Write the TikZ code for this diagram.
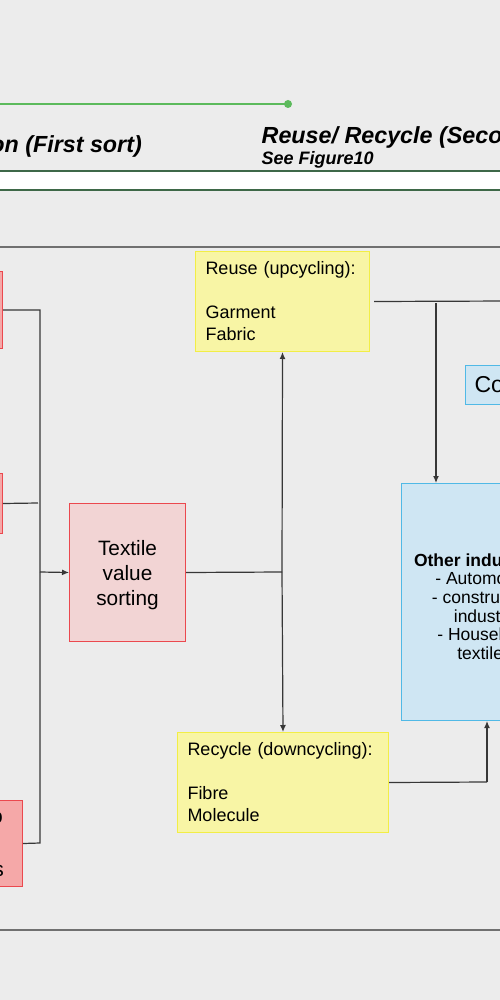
\documentclass[tikz,border=0pt]{standalone}
\usepackage{fontspec}
\setmainfont{Liberation Sans}
\usetikzlibrary{arrows.meta}
\definecolor{bg}{RGB}{236,236,236}
\definecolor{lgreen}{RGB}{92,186,92}
\definecolor{dgreen}{RGB}{62,104,72}
\definecolor{gline}{RGB}{112,112,112}
\definecolor{cline}{RGB}{55,55,55}
\definecolor{redb}{RGB}{235,72,78}
\definecolor{tvfill}{RGB}{242,212,212}
\definecolor{lfill}{RGB}{245,168,168}
\definecolor{yfill}{RGB}{248,245,165}
\definecolor{yborder}{RGB}{242,238,70}
\definecolor{bfill}{RGB}{207,230,243}
\definecolor{bborder}{RGB}{80,185,230}
\tikzset{
  conn/.style={draw=cline, line width=1.2pt},
  arr/.style={conn, -{Latex[length=7pt,width=6pt]}},
  lbox/.style={draw=redb, fill=lfill, line width=1pt, inner sep=0pt},
  tvbox/.style={draw=redb, fill=tvfill, line width=1pt, inner sep=0pt},
  ybox/.style={draw=yborder, fill=yfill, line width=1pt},
  bbox/.style={draw=bborder, fill=bfill, line width=1pt},
  plain/.style={inner sep=0pt},
}
\begin{document}
\begin{tikzpicture}[x=1pt,y=-1pt]
\useasboundingbox (0,0) rectangle (500,1000);
\clip (0,0) rectangle (500,1000);
\fill[bg] (-5,-5) rectangle (505,1005);

% header lines
\coordinate (gstart) at (-5,104);
\coordinate (gdot) at (288,104);
\draw[lgreen, line width=1.5pt] (gstart) -- (gdot);
\fill[lgreen] (gdot) circle (4);
\fill[white] (-5,171) rectangle (505,190);
\draw[dgreen, line width=2.6pt] (-5,171) -- (505,171);
\draw[dgreen, line width=2.6pt] (-5,190) -- (505,190);
\draw[gline, line width=1.8pt] (-5,247) -- (505,247);
\draw[gline, line width=1.8pt] (-5,930) -- (505,930);

% header texts
\node[plain, anchor=base east, font=\fontsize{23.3}{27}\selectfont\bfseries\itshape] (h1) at (142,152.5) {on (First sort)};
\node[plain, anchor=base west, font=\fontsize{23.3}{27}\selectfont\bfseries\itshape] (h2) at (261.5,143.5) {Reuse/ Recycle (Seco};
\node[plain, anchor=base west, font=\fontsize{18}{21}\selectfont\bfseries\itshape] (h3) at (261.5,165) {See Figure10};

% left boxes
\node[lbox, anchor=north east, minimum width=60pt, minimum height=77pt] (b1) at (3,271) {};
\node[lbox, anchor=north east, minimum width=60pt, minimum height=60pt] (b2) at (3,473) {};
\node[lbox, anchor=north east, minimum width=120pt, minimum height=86pt] (b3) at (23,800) {};
\node[plain, anchor=base east, font=\fontsize{21}{25}\selectfont] (t3a) at (3,823) {o};
\node[plain, anchor=base east, font=\fontsize{21}{25}\selectfont] (t3b) at (4,876) {s};

% main boxes
\node[tvbox, anchor=north west, minimum width=116pt, minimum height=138pt] (tv) at (69,503) {};
\node[plain, align=center, font=\fontsize{20.8}{25}\selectfont] (tvt) at ([yshift=-3pt]tv.center) {Textile\\value\\sorting};
\node[ybox, anchor=north west, text width=154pt, inner xsep=10pt, minimum height=100pt, align=left,
      font=\fontsize{18}{22}\selectfont] (reuse) at (195,251) {Reuse (upcycling):\\[22pt]Garment\\Fabric};
\node[ybox, anchor=north west, text width=191pt, inner xsep=10pt, minimum height=100pt, align=left,
      font=\fontsize{18}{22}\selectfont] (recycle) at (177,732) {Recycle (downcycling):\\[22pt]Fibre\\Molecule};
\node[bbox, anchor=north west, minimum width=166pt, minimum height=237pt] (oi) at (401,483) {};
\node[plain, align=center, font=\fontsize{17.5}{18.7}\selectfont] (oit) at ([yshift=-4.5pt]oi.center)
      {\textbf{Other industries:}\\- Automotive\\- construction\\industry\\- Household\\textiles};
\node[bbox, anchor=north west, text width=80pt, inner xsep=9pt, minimum height=39pt, align=left,
      font=\fontsize{23}{27}\selectfont] (co) at (465,365) {Co};

% connectors
\coordinate (j3) at (40,843);
\coordinate (j2) at (38,503);
\coordinate (jin) at (40,572);
\coordinate (jm) at (282,572);
\coordinate (rend) at (510,301);
\coordinate (dtop) at (436,303);
\coordinate (rc) at (487,782);
\draw[conn] (b1.east) -| (j3) -- (b3.east);
\draw[conn] (b2.east) -- (j2);
\draw[arr] (jin) -- (tv.west);
\draw[conn] (tv.east) -- (jm);
\draw[arr] (jm) -- (reuse.south);
\draw[arr] (jm) -- (recycle.north);
\draw[conn] ([xshift=4pt]reuse.east) -- (rend);
\draw[arr] (dtop) -- (dtop |- oi.north);
\draw[conn] (recycle.east) -- (rc);
\draw[arr] (rc) -- (rc |- oi.south);
\end{tikzpicture}
\end{document}
